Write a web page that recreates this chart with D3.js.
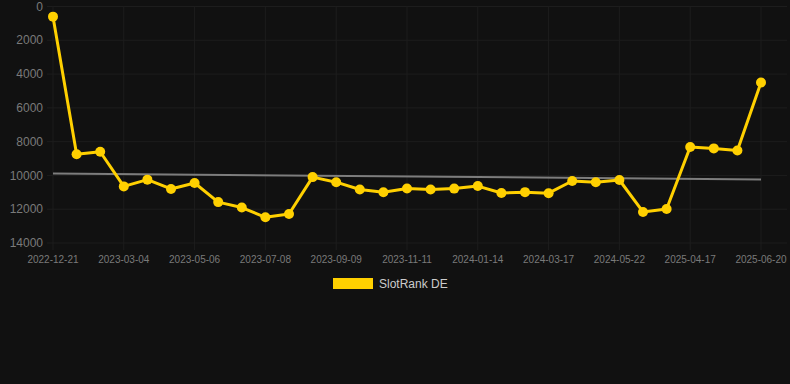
<!DOCTYPE html>
<html>
<head>
<meta charset="utf-8">
<script src="https://cdn.jsdelivr.net/npm/d3@7"></script>
<style>
  html, body { margin: 0; padding: 0; background: #111111; }
  svg { display: block; font-family: "Liberation Sans", Arial, sans-serif; }
</style>
</head>
<body>
<svg width="790" height="384"></svg>
<script>
const dates = [
  "2022-12-21", "2023-01-14", "2023-02-07", "2023-03-04", "2023-03-25", "2023-04-15",
  "2023-05-06", "2023-05-27", "2023-06-17", "2023-07-08", "2023-07-29", "2023-08-19",
  "2023-09-09", "2023-09-30", "2023-10-21", "2023-11-11", "2023-12-02", "2023-12-23",
  "2024-01-14", "2024-02-04", "2024-02-25", "2024-03-17", "2024-04-07", "2024-04-28",
  "2024-05-22", "2024-06-12", "2025-03-27", "2025-04-17", "2025-05-08", "2025-05-29",
  "2025-06-20"
];
const ranks = [
  600, 8750, 8600, 10650, 10250, 10800,
  10450, 11580, 11900, 12480, 12280, 10100,
  10400, 10830, 11000, 10770, 10830, 10780,
  10630, 11040, 10990, 11050, 10330, 10400,
  10270, 12160, 11990, 8320, 8400, 8520,
  4500
];
const trend = [9880, 10240];
const yTicks = [0, 2000, 4000, 6000, 8000, 10000, 12000, 14000];
const seriesName = "SlotRank DE";

const margin = { top: 6.5, right: 29, bottom: 141, left: 53 },
      width = 790 - margin.left - margin.right,
      height = 384 - margin.top - margin.bottom;

const svg = d3.select("svg")
  .append("g")
  .attr("transform", `translate(${margin.left},${margin.top})`);

const x = d3.scalePoint().domain(dates).range([0, width]);
const y = d3.scaleLinear().domain([0, 14000]).range([0, height]);

const shown = dates.filter((d, i) => i % 3 === 0);

// grid
svg.append("g")
  .selectAll("line")
  .data(yTicks)
  .enter()
  .append("line")
  .attr("x1", -6)
  .attr("x2", width + 26)
  .attr("y1", d => y(d))
  .attr("y2", d => y(d))
  .attr("stroke", "#1d1d1d")
  .attr("stroke-width", 1);

svg.append("g")
  .selectAll("line")
  .data(shown)
  .enter()
  .append("line")
  .attr("x1", d => x(d))
  .attr("x2", d => x(d))
  .attr("y1", 0)
  .attr("y2", height + 7)
  .attr("stroke", "#1d1d1d")
  .attr("stroke-width", 1);

// y axis labels
svg.append("g")
  .selectAll("text")
  .data(yTicks)
  .enter()
  .append("text")
  .attr("x", -10)
  .attr("y", d => y(d))
  .attr("dy", "0.35em")
  .attr("text-anchor", "end")
  .attr("fill", "#7a7a7a")
  .attr("font-size", 12)
  .text(d => d);

// x axis labels
svg.append("g")
  .selectAll("text")
  .data(shown)
  .enter()
  .append("text")
  .attr("x", d => x(d))
  .attr("y", height + 16)
  .attr("dy", "0.35em")
  .attr("text-anchor", "middle")
  .attr("fill", "#7a7a7a")
  .attr("font-size", 10)
  .text(d => d);

// trend line
svg.append("line")
  .attr("x1", x(dates[0]))
  .attr("x2", x(dates[dates.length - 1]))
  .attr("y1", y(trend[0]))
  .attr("y2", y(trend[1]))
  .attr("stroke", "#7d7d7d")
  .attr("stroke-width", 2);

// series
const line = d3.line()
  .x((d, i) => x(dates[i]))
  .y(d => y(d));

svg.append("path")
  .datum(ranks)
  .attr("fill", "none")
  .attr("stroke", "#ffd000")
  .attr("stroke-width", 3)
  .attr("stroke-linejoin", "round")
  .attr("d", line);

svg.selectAll(".dot")
  .data(ranks)
  .enter()
  .append("circle")
  .attr("class", "dot")
  .attr("cx", (d, i) => x(dates[i]))
  .attr("cy", d => y(d))
  .attr("r", 5)
  .attr("fill", "#ffd000");

// legend
const legend = d3.select("svg").append("g")
  .attr("transform", "translate(333,278)");

legend.append("rect")
  .attr("x", 0)
  .attr("y", 0)
  .attr("width", 40)
  .attr("height", 11)
  .attr("fill", "#ffd000");

legend.append("text")
  .attr("x", 46)
  .attr("y", 6)
  .attr("dy", "0.35em")
  .attr("fill", "#cccccc")
  .attr("font-size", 12)
  .text(seriesName);
</script>
</body>
</html>
